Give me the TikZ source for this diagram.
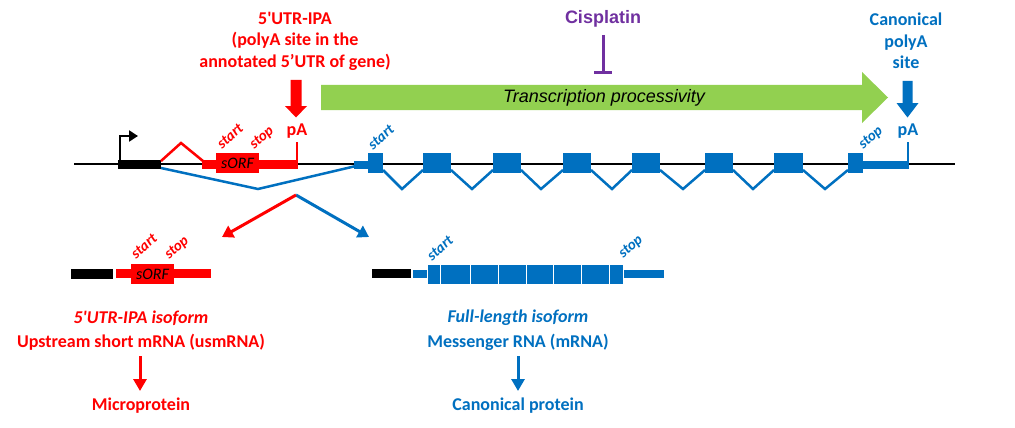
\documentclass[tikz,border=0pt]{standalone}
\usepackage{fontspec}
\setmainfont{Carlito}
\newfontfamily\calfont{Carlito}
\newfontfamily\arialfont{Liberation Sans}
\usetikzlibrary{arrows.meta}
\definecolor{cred}{HTML}{FF0000}
\definecolor{cblue}{HTML}{0070C0}
\definecolor{cpurple}{HTML}{7030A0}
\definecolor{cgreen}{HTML}{92D050}
\begin{document}
\begin{tikzpicture}[x=1pt,y=-1pt,
  biglbl/.style={font=\fontsize{18}{21.5}\selectfont\calfont\bfseries, align=center, inner sep=0pt},
  itlbl/.style={font=\fontsize{18}{21.5}\selectfont\calfont\bfseries\itshape, align=center, inner sep=0pt},
  codon/.style={font=\fontsize{15}{15}\selectfont\bfseries\itshape, rotate=41, inner sep=0pt},
  orf/.style={fill=cred, minimum width=43pt, minimum height=20pt, inner sep=0pt, font=\fontsize{16}{16}\selectfont\itshape},
  intron/.style={line width=2.5pt, line join=miter},
  splitarrow/.style={line width=3pt, -{Triangle[length=11pt,width=13pt]}},
  downarrow/.style={line width=3pt, -{Triangle[length=12pt,width=13pt]}},
  exonbox/.style={fill=cblue, draw=none},
  mexon/.style={fill=cblue, draw=white, line width=1pt}]
\useasboundingbox (0,0) rectangle (1015,428);
\fill[white] (0,0) rectangle (1015,428);

% ---------- gene line ----------
\coordinate (gl) at (74,164);
\coordinate (gr) at (955,164);
\draw[line width=2pt] (gl) -- (gr);

% promoter
\coordinate (pr0) at (120,161);
\coordinate (pr1) at (120,136);
\coordinate (pr2) at (138,136);
\draw[line width=2.2pt, -{Triangle[length=9pt,width=11pt]}] (pr0) -- (pr1) -- (pr2);
\fill[black] (118,160) rectangle (161,169);

% blue long intron
\coordinate (bi0) at (161,168);
\coordinate (bi1) at (258,189);
\coordinate (bi2) at (356,166);
\draw[intron, cblue] (bi0) -- (bi1) -- (bi2);

% red intron
\coordinate (ri0) at (161,161);
\coordinate (ri1) at (181,143);
\coordinate (ri2) at (203,161);
\draw[intron, cred] (ri0) -- (ri1) -- (ri2);

% red 5'UTR region
\fill[cred] (202,160) rectangle (297,168.5);
\node[orf] (sorf) at (237.5,163) {sORF};
\draw[cred, line width=2.2pt] (297,168.5) -- (297,142);
\node[codon, cred] (rstart) at (230,136) {start};
\node[codon, cred] (rstop) at (262,138) {stop};
\node[biglbl, cred] (rpa) at (297,131) {pA};

% blue exons
\fill[cblue] (354,161) rectangle (368,169);
\fill[cblue] (848,161) rectangle (908,169);
\draw[cblue, line width=2.2pt] (908,169) -- (908,142);
\foreach \xa/\xb/\n in {368/383/1,423/451/2,493/521/3,563/591/4,632/660/5,705/733/6,774/803/7,848/863/8}
  \path[exonbox] (\xa,153) rectangle (\xb,173) coordinate (ex\n);
\foreach \xa/\v/\xb in {383/402/423,451/472/493,521/541/563,591/612/632,660/683/705,733/753/774,803/825/848}
  \draw[intron, cblue] (\xa,170) -- (\v,189) -- (\xb,170);
\node[codon, cblue] (bstart) at (381,137) {start};
\node[codon, cblue] (bstop) at (871,138) {stop};
\node[biglbl, cblue] (bpa) at (908,131) {pA};

% ---------- top labels ----------
\node[biglbl, cred] (ipa) at (295,41) {5\symbol{39}UTR-IPA\\(polyA site in the\\annotated 5’UTR of gene)};
\node[biglbl, cblue] (canon) at (906,41) {Canonical\\polyA\\site};
\node[cpurple, inner sep=0pt, font=\fontsize{18}{18}\selectfont\arialfont\bfseries] (cis) at (603,19) {Cisplatin};

% red block arrow
\fill[cred] (290.5,80) -- (301.5,80) -- (301.5,106) -- (307,106) -- (296,117.5) -- (285,106) -- (290.5,106) -- cycle;
% blue block arrow
\fill[cblue] (902.5,81) -- (912.5,81) -- (912.5,103) -- (918.5,103) -- (907.5,117.5) -- (896.5,103) -- (902.5,103) -- cycle;

% inhibition
\coordinate (inh0) at (603,35);
\coordinate (inh1) at (603,73);
\draw[cpurple, line width=3pt] (inh0) -- (inh1);
\draw[cpurple, line width=3pt] (594,73) -- (612,73);

% green processivity arrow
\fill[cgreen] (321,85) -- (862,85) -- (862,72) -- (888,97.5) -- (862,123) -- (862,110) -- (321,110) -- cycle;
\node[font=\fontsize{18}{18}\selectfont\arialfont\itshape, inner sep=0pt] (proc) at (604,97.5) {Transcription processivity};

% ---------- split ----------
\coordinate (apex) at (296,195);
\coordinate (lt) at (222,237);
\coordinate (rt) at (369,237);
\draw[splitarrow, cblue] (apex) -- (rt);
\draw[splitarrow, cred] (apex) -- (lt);

% ---------- lower left transcript ----------
\fill[black] (71,268.5) rectangle (113,278.5);
\fill[cred] (116,269) rectangle (211,278);
\node[orf] (sorf2) at (152.5,274) {sORF};
\node[codon, cred] (lstart) at (144,246) {start};
\node[codon, cred] (lstop) at (177,248) {stop};

\node[itlbl, cred] (usmA) at (141,318) {5\symbol{39}UTR-IPA isoform};
\node[biglbl, cred] (usmB) at (141,342) {Upstream short mRNA (usmRNA)};
\coordinate (la0) at (140,356);
\coordinate (la1) at (140,391);
\draw[downarrow, cred] (la0) -- (la1);
\node[biglbl, cred] (micro) at (141,406) {Microprotein};

% ---------- lower right transcript ----------
\fill[black] (372,269) rectangle (411,278);
\fill[cblue] (413,270) rectangle (428,278);
\fill[cblue] (622,270) rectangle (664,278);
\foreach \xa/\xb/\n in {427/440.5/1,440.5/470.5/2,470.5/498.5/3,498.5/526.5/4,526.5/553.5/5,553.5/581.5/6,581.5/609.5/7,609.5/623/8}
  \path[mexon] (\xa,264) rectangle (\xb,284) coordinate (mx\n);
\node[codon, cblue] (mstart) at (440,248) {start};
\node[codon, cblue] (mstop) at (631,247) {stop};

\node[itlbl, cblue] (flA) at (518,318) {Full-length isoform};
\node[biglbl, cblue] (flB) at (518,342) {Messenger RNA (mRNA)};
\coordinate (ra0) at (518,356);
\coordinate (ra1) at (518,391);
\draw[downarrow, cblue] (ra0) -- (ra1);
\node[biglbl, cblue] (cprot) at (518,406) {Canonical protein};
\end{tikzpicture}
\end{document}
